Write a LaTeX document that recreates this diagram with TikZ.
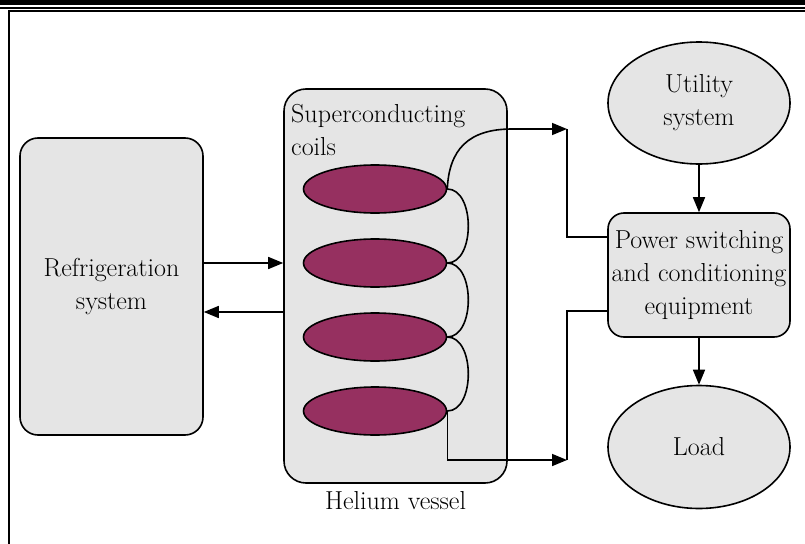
\documentclass[tikz,border=0pt]{standalone}
\usetikzlibrary{shapes.geometric,arrows.meta,calc}
\definecolor{boxgray}{RGB}{229,229,229}
\definecolor{coil}{RGB}{150,48,96}
\tikzset{
  lbl/.style={font=\fontsize{26}{33}\selectfont, text=black},
  rbox/.style={draw, line width=1.6pt, fill=boxgray, rounded corners=#1, inner sep=0pt},
  oval/.style={ellipse, draw, line width=1.6pt, fill=boxgray, inner sep=0pt, lbl, align=center},
  coilshape/.style={ellipse, draw, line width=1.6pt, fill=coil, inner sep=0pt, minimum width=143pt, minimum height=48pt},
  wire/.style={line width=1.6pt},
  arr/.style={wire, -{Triangle[length=15pt,width=12pt]}},
}
\begin{document}
\begin{tikzpicture}[x=1pt,y=-1pt]
\useasboundingbox (0,0) rectangle (805,543);
% frame
\fill[black] (0,0) rectangle (805,5.5);
\fill[black] (0,6.8) rectangle (805,8.8);
\draw[line width=2.4pt] (9,545) -- (9,11) -- (810,11);
% blocks
\node[rbox=18pt, minimum width=183pt, minimum height=297pt, lbl, align=center] (ref) at (111.5,286.5) {Refrigeration\\system};
\node[rbox=22pt, minimum width=223pt, minimum height=394pt] (vessel) at (395.5,286) {};
\node[lbl, anchor=north west, inner sep=0pt, align=left] (sc) at (291,104) {Superconducting\\coils};
\node[lbl, anchor=north, inner sep=0pt] (hv) at ([yshift=-7pt]vessel.south) {Helium vessel};
\node[coilshape] (c1) at (375,189) {};
\node[coilshape] (c2) at (375,263) {};
\node[coilshape] (c3) at (375,337) {};
\node[coilshape] (c4) at (375,411) {};
\node[oval, minimum width=182pt, minimum height=122pt] (util) at (699,103) {Utility\\system};
\node[rbox=16pt, minimum width=182pt, minimum height=124pt, lbl, align=center] (power) at (699,275) {Power switching\\and conditioning\\equipment};
\node[oval, minimum width=182pt, minimum height=123pt] (load) at (699,447) {Load};
% refrigeration <-> vessel
\draw[arr] ([yshift=23.5pt]ref.east) -- ([yshift=23.5pt]ref.east -| vessel.west);
\draw[arr] ([yshift=-25.5pt]ref.east -| vessel.west) -- ([yshift=-25.5pt]ref.east);
% coil loops
\draw[wire] (c1.east) .. controls ([xshift=28pt]c1.east) and ([xshift=28pt]c2.east) .. (c2.east);
\draw[wire] (c2.east) .. controls ([xshift=28pt]c2.east) and ([xshift=28pt]c3.east) .. (c3.east);
\draw[wire] (c3.east) .. controls ([xshift=28pt]c3.east) and ([xshift=28pt]c4.east) .. (c4.east);
% leads
\coordinate (j1) at (567,129);
\coordinate (j2) at (567,460);
\draw[arr] (c1.east) .. controls (449,150) and (468,129) .. (512,129) -- (j1);
\draw[wire] (j1) |- ([yshift=38pt]power.west);
\draw[arr] (c4.east) |- (j2);
\draw[wire] (j2) |- ([yshift=-36pt]power.west);
% right column
\draw[arr] (util.south) -- (power.north);
\draw[arr] (power.south) -- (load.north);
\end{tikzpicture}
\end{document}
